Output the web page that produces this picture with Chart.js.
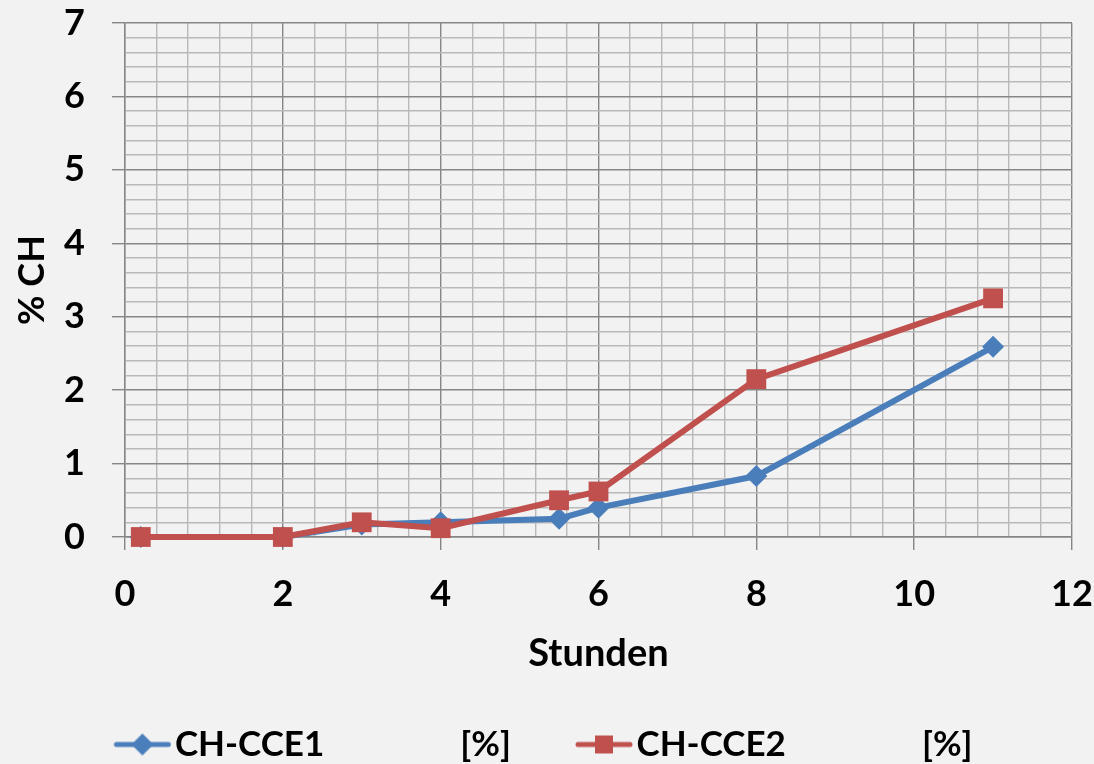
<!DOCTYPE html>
<html>
<head>
<meta charset="utf-8">
<script src="https://cdn.jsdelivr.net/npm/chart.js@4.4.1/dist/chart.umd.min.js"></script>
<style>
  html, body { margin: 0; padding: 0; background: #f2f2f2; }
  #wrap { width: 1094px; height: 764px; position: relative; }
</style>
</head>
<body>
<div id="wrap"><canvas id="chChart"></canvas></div>
<script>
/* Messwerte: Stunden gegen % CH */
const hours = [0.2, 2, 3, 4, 5.5, 6, 8, 11];
const cce1  = [0, 0, 0.17, 0.2, 0.25, 0.4, 0.83, 2.59];
const cce2  = [0, 0, 0.2, 0.12, 0.5, 0.62, 2.15, 3.25];

const xLabels = [0, 2, 4, 6, 8, 10, 12];
const yLabels = [0, 1, 2, 3, 4, 5, 6, 7];
const seriesNames = ['CH-CCE1                [%]', 'CH-CCE2                [%]'];

const BLUE = '#4a7ebb';
const RED  = '#c0504d';
const FONT = 'Lato, "Open Sans", sans-serif';

function isMajor(list, v) {
  return list.some(t => Math.abs(t - v) < 1e-6);
}

/* Legendensymbol: Linie mit Marker, links transparenter Vorlauf */
function legendIcon(color, shape) {
  const c = document.createElement('canvas');
  c.width = 86; c.height = 26;
  const g = c.getContext('2d');
  const x0 = 28;
  g.strokeStyle = color;
  g.lineWidth = 5;
  g.lineCap = 'round';
  g.beginPath(); g.moveTo(x0 + 3, 13); g.lineTo(x0 + 55, 13); g.stroke();
  g.fillStyle = color;
  if (shape === 'diamond') {
    g.beginPath();
    g.moveTo(x0 + 29, 2); g.lineTo(x0 + 40, 13); g.lineTo(x0 + 29, 24); g.lineTo(x0 + 18, 13);
    g.closePath(); g.fill();
  } else {
    g.fillRect(x0 + 20, 4, 18, 18);
  }
  return c;
}
const icons = [legendIcon(BLUE, 'diamond'), legendIcon(RED, 'square')];

const toPoints = ys => hours.map((h, i) => ({ x: h, y: ys[i] }));

const tickFont  = { family: FONT, size: 36, weight: 'bold' };
const titleFont = { family: FONT, size: 38, weight: 'bold' };

new Chart(document.getElementById('chChart').getContext('2d'), {
  type: 'line',
  data: {
    datasets: [
      {
        label: seriesNames[0],
        data: toPoints(cce1),
        borderColor: BLUE,
        backgroundColor: BLUE,
        borderWidth: 6,
        pointStyle: 'rectRot',
        pointRadius: 11,
        pointBorderWidth: 0,
        pointBackgroundColor: BLUE,
        order: 1,
        clip: false,
      },
      {
        label: seriesNames[1],
        data: toPoints(cce2),
        borderColor: RED,
        backgroundColor: RED,
        borderWidth: 6,
        pointStyle: 'rect',
        pointRadius: 14,
        pointBorderWidth: 0,
        pointBackgroundColor: RED,
        order: 0,
        clip: false,
      },
    ],
  },
  options: {
    responsive: true,
    maintainAspectRatio: false,
    animation: false,
    layout: { padding: { top: 23, right: 22, bottom: -8, left: 0 } },
    plugins: {
      tooltip: { enabled: false },
      legend: {
        position: 'bottom',
        labels: {
          color: '#000',
          font: { family: FONT, size: 35, weight: 'bold' },
          usePointStyle: true,
          pointStyleWidth: 58,
          padding: 50,
          generateLabels: (chart) => chart.data.datasets.map((ds, i) => ({
            text: ds.label,
            pointStyle: icons[i],
            fillStyle: ds.borderColor,
            strokeStyle: ds.borderColor,
            lineWidth: 0,
            hidden: false,
            datasetIndex: i,
            fontColor: '#000',
          })),
        },
      },
    },
    scales: {
      x: {
        type: 'linear',
        min: 0, max: 12,
        afterFit: (s) => { s.height = 140; s.paddingLeft = 0; s.paddingRight = 0; },
        ticks: {
          stepSize: 0.4,
          autoSkip: false,
          maxRotation: 0,
          color: '#000',
          padding: 23,
          font: tickFont,
          callback: (v) => isMajor(xLabels, v) ? String(Math.round(v)) : '',
        },
        grid: {
          color: (c) => isMajor(xLabels, c.tick.value) ? '#868686' : '#b9b9b9',
          lineWidth: 1.4,
          tickLength: 13,
          tickColor: (c) => isMajor(xLabels, c.tick.value) ? '#868686' : 'rgba(0,0,0,0)',
        },
        border: { color: '#868686', width: 1.4 },
        title: {
          display: true,
          text: 'Stunden',
          color: '#000',
          font: titleFont,
          padding: { top: 0, bottom: 0 },
        },
      },
      y: {
        type: 'linear',
        min: 0, max: 7,
        afterFit: (s) => { s.width = 125; s.paddingTop = 0; s.paddingBottom = 0; },
        ticks: {
          stepSize: 0.2,
          autoSkip: false,
          color: '#000',
          padding: 27,
          font: tickFont,
          callback: (v) => isMajor(yLabels, v) ? String(Math.round(v)) : '',
        },
        grid: {
          color: (c) => isMajor(yLabels, c.tick.value) ? '#868686' : '#b9b9b9',
          lineWidth: 1.4,
          tickLength: 13,
          tickColor: (c) => isMajor(yLabels, c.tick.value) ? '#868686' : 'rgba(0,0,0,0)',
        },
        border: { color: '#868686', width: 1.4 },
        title: {
          display: true,
          text: '% CH',
          color: '#000',
          font: { family: FONT, size: 36, weight: 'bold' },
          padding: { top: 11, bottom: 0 },
        },
      },
    },
  },
});
</script>
</body>
</html>
